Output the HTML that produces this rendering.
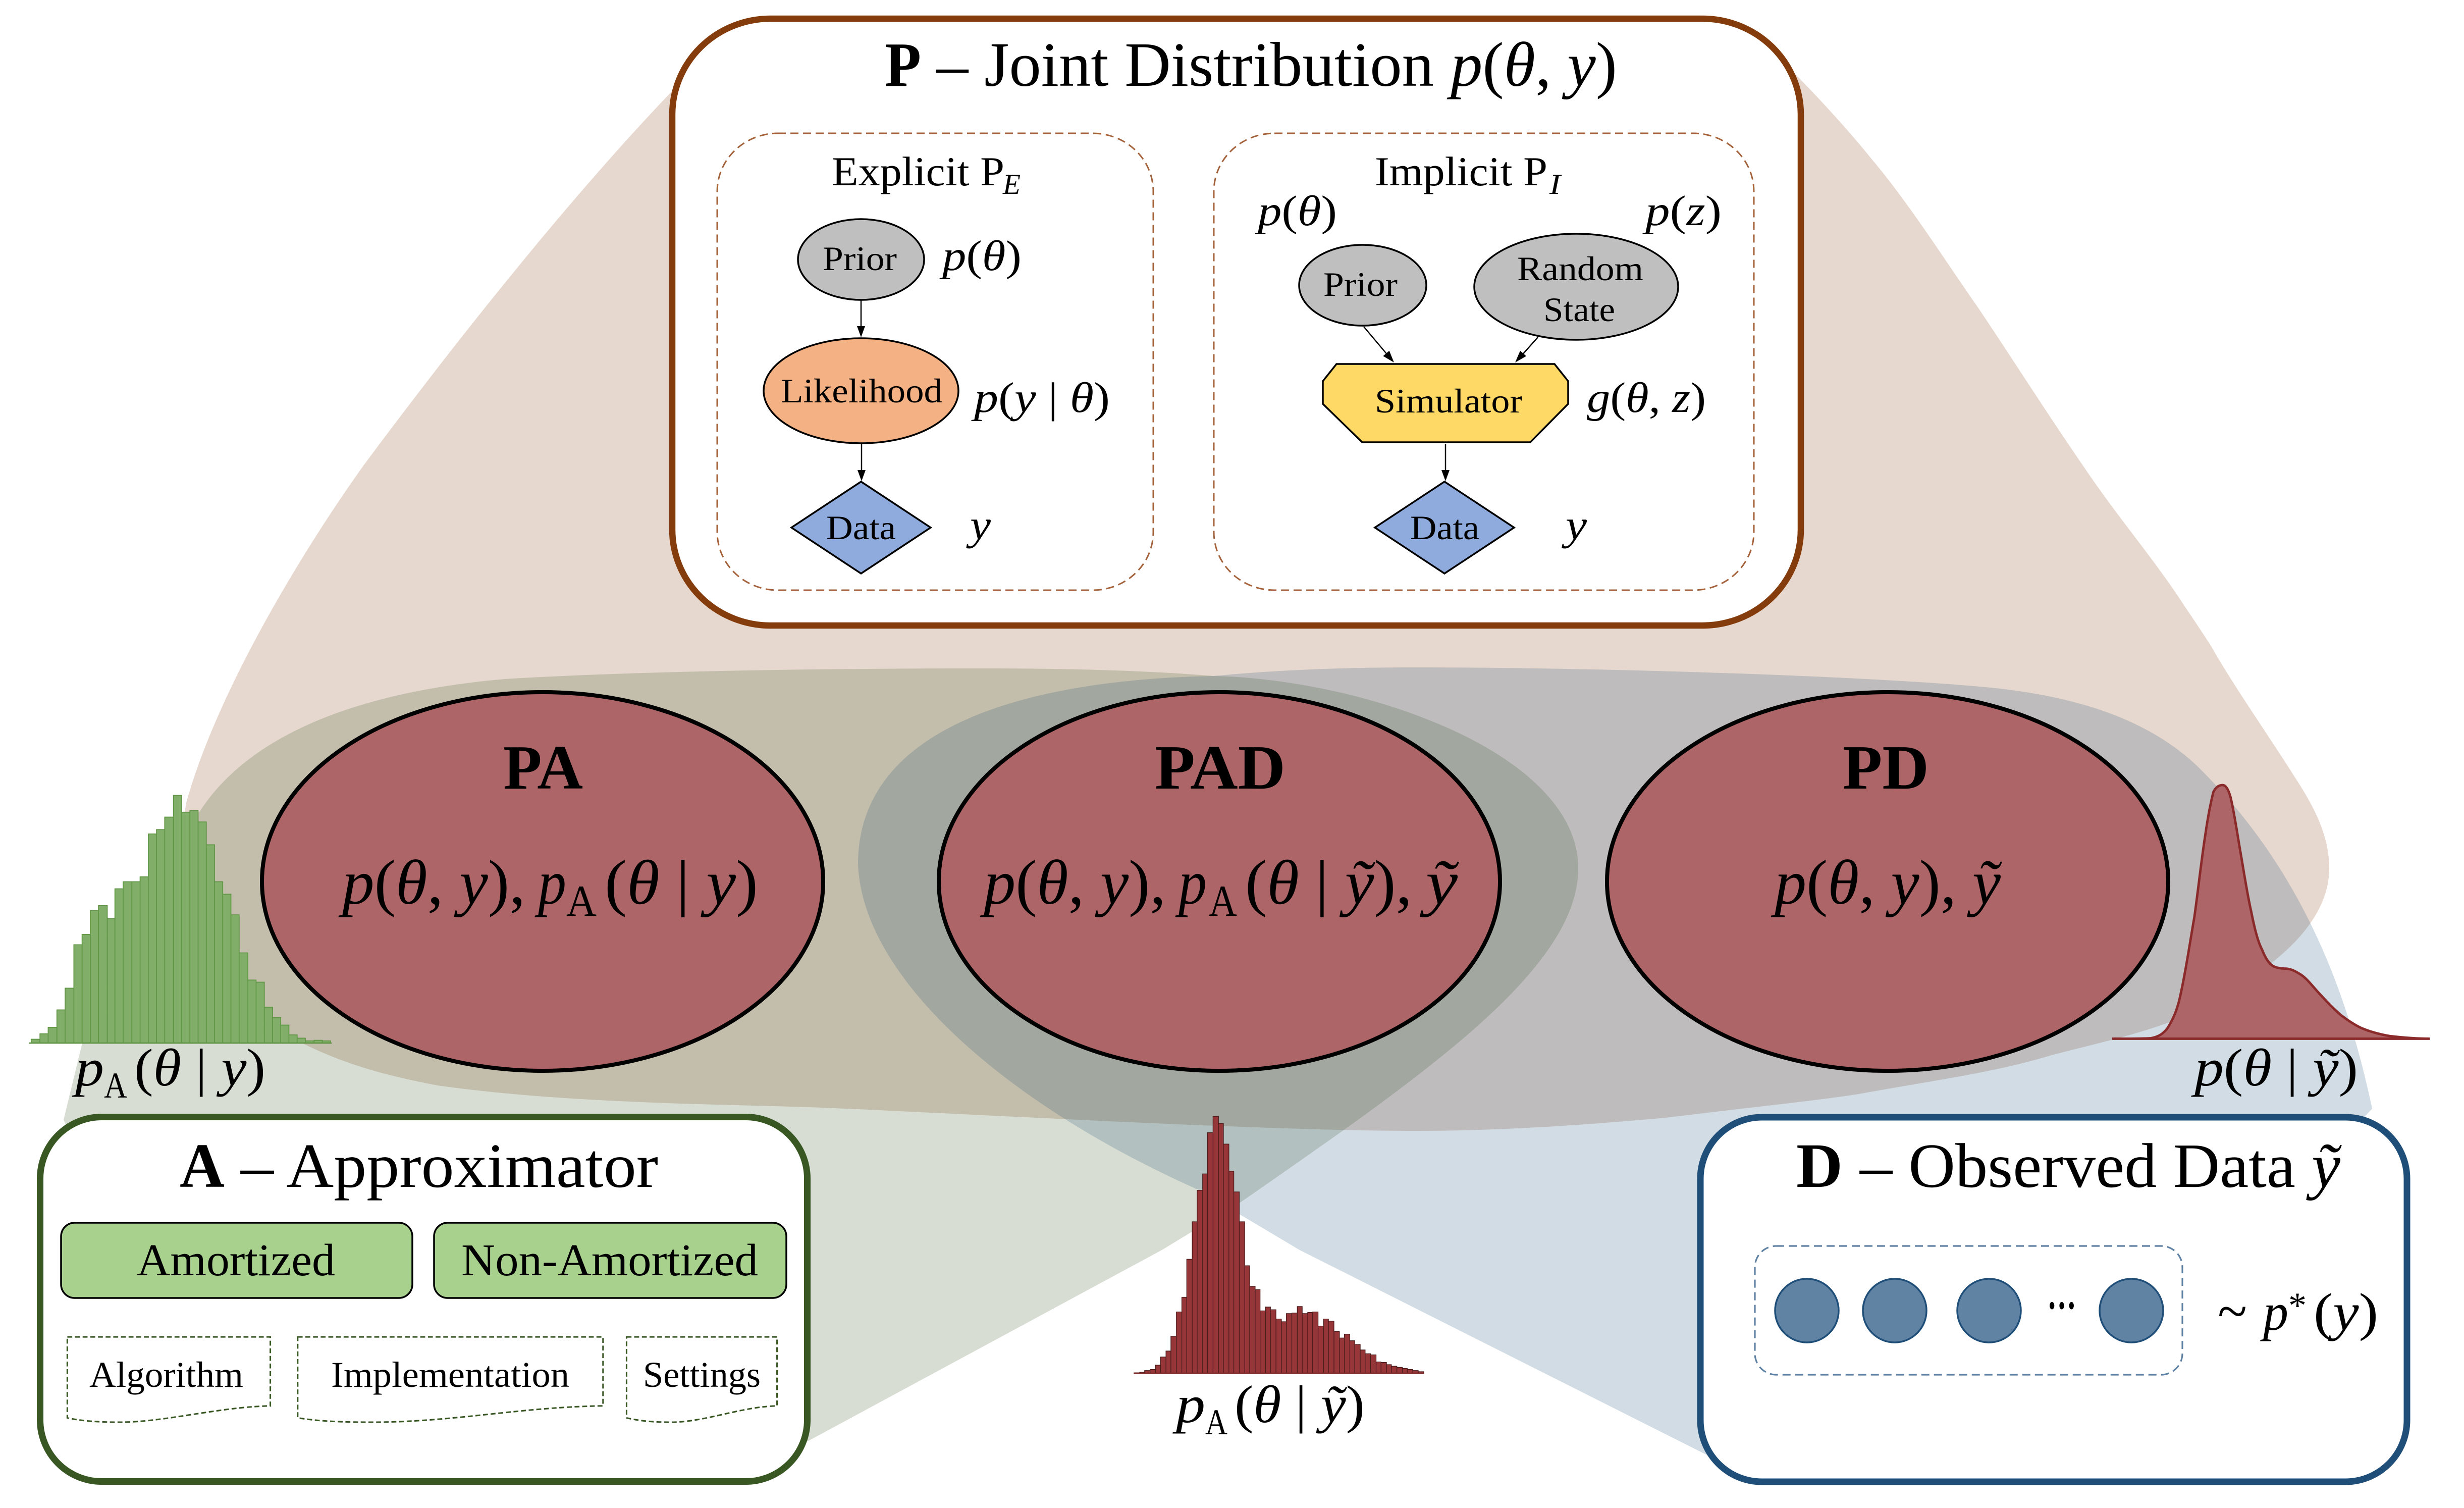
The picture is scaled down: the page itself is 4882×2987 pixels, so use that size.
<!DOCTYPE html>
<html><head><meta charset="utf-8"><title>Diagram</title>
<style>
html,body{margin:0;padding:0;background:#fff}
svg{display:block}
text{font-family:"Liberation Serif",serif;fill:#000}
.i{font-style:italic}
.b{font-weight:bold}
</style></head><body>
<svg xmlns="http://www.w3.org/2000/svg" width="4882" height="2987" viewBox="0 0 4882 2987">
<rect width="4882" height="2987" fill="#fff"/>
<!-- fans -->
<path fill="#843c0c" fill-opacity=".2" d="M1400 120 L1335 177 C1130 390 900 680 721 921 C600 1090 430 1370 369 1590 C340 1750 400 1950 575 2054 C670 2105 760 2130 867 2150 C1150 2190 1500 2187 1650 2195 C1900 2205 2500 2240 2800 2240 C2950 2240 3100 2232 3300 2214 C3480 2192 3600 2180 3683 2167 C3830 2140 3950 2125 4065 2090 C4150 2068 4230 2050 4295 2026 C4370 1995 4440 1955 4500 1908 C4555 1865 4615 1800 4615 1720 C4615 1650 4580 1590 4544 1535 C4510 1480 4420 1350 4381 1280 C4365 1255 4345 1225 4328 1200 C4270 1110 4200 1030 4131 928 C4060 825 3990 715 3921 612 C3850 510 3780 400 3710 317 C3660 255 3600 190 3549 139 L3400 120 Z"/>
<path fill="#385723" fill-opacity=".2" d="M160 2300 L126 2218 L163 2066 C220 1900 290 1700 396 1607 C465 1500 625 1378 1000 1345 C1250 1330 1600 1324 1950 1324 C2120 1324 2270 1328 2405 1339 C2700 1345 3127 1490 3127 1720 C3127 1920 2820 2130 2460 2380 L2302 2476 L1600 2855 L1540 2860 L200 2860 Z"/>
<path fill="#1f4e79" fill-opacity=".2" d="M4640 2260 L4700 2196 C4640 1910 4530 1690 4352 1516 C4250 1420 4100 1375 3922 1360 C3700 1340 3200 1322 2800 1322 C2650 1322 2520 1328 2405 1339 C2080 1345 1700 1420 1700 1712 C1710 1950 2020 2200 2375 2357 L2575 2476 L3382 2882 L3500 2880 L4600 2880 Z"/>

<!-- ellipses -->
<g fill="#ae6567" stroke="#000" stroke-width="8">
<ellipse cx="1075" cy="1746" rx="556" ry="375"/>
<ellipse cx="2416" cy="1746" rx="556" ry="375"/>
<ellipse cx="3740" cy="1746" rx="556" ry="375"/>
</g>
<text class="b" x="997" y="1562" font-size="125" textLength="158" lengthAdjust="spacingAndGlyphs">PA</text>
<text class="b" x="2288" y="1562" font-size="125" textLength="259" lengthAdjust="spacingAndGlyphs">PAD</text>
<text class="b" x="3651" y="1562" font-size="125" textLength="171" lengthAdjust="spacingAndGlyphs">PD</text>

<text x="678" y="1790" font-size="125" textLength="363" lengthAdjust="spacingAndGlyphs"><tspan class="i">p</tspan>(<tspan class="i">θ</tspan>, <tspan class="i">y</tspan>),</text>
<text class="i" x="1066" y="1790" font-size="125" textLength="56" lengthAdjust="spacingAndGlyphs">p</text>
<text x="1122" y="1814" font-size="88" textLength="60" lengthAdjust="spacingAndGlyphs">A</text>
<text x="1198" y="1790" font-size="125" textLength="304" lengthAdjust="spacingAndGlyphs">(<tspan class="i">θ</tspan> | <tspan class="i">y</tspan>)</text>

<text x="1949" y="1790" font-size="125" textLength="361" lengthAdjust="spacingAndGlyphs"><tspan class="i">p</tspan>(<tspan class="i">θ</tspan>, <tspan class="i">y</tspan>),</text>
<text class="i" x="2335" y="1790" font-size="125" textLength="56" lengthAdjust="spacingAndGlyphs">p</text>
<text x="2395" y="1814" font-size="88" textLength="56" lengthAdjust="spacingAndGlyphs">A</text>
<text x="2467" y="1790" font-size="125" textLength="331" lengthAdjust="spacingAndGlyphs">(<tspan class="i">θ</tspan> | <tspan class="i">ỹ</tspan>),</text>
<text class="i" x="2825" y="1790" font-size="125" textLength="63" lengthAdjust="spacingAndGlyphs">ỹ</text>

<text x="3516" y="1790" font-size="125" textLength="448" lengthAdjust="spacingAndGlyphs"><tspan class="i">p</tspan>(<tspan class="i">θ</tspan>, <tspan class="i">y</tspan>), <tspan class="i">ỹ</tspan></text>

<!-- green histogram -->
<g transform="translate(0,1300) scale(1.0842,1.0759)">
<path fill="#81ae68" stroke="#609545" stroke-width="1.6" d="M57 712V705H73V712M73 712V695H88V712M88 712V683H104V712M104 712V651H119V712M119 712V611H135V712M135 712V531H150V712M150 712V512H165V712M165 712V468H180V712M180 712V459H196V712M196 712V483H210V712M210 712V428H225V712M225 712V415H241V712M241 712V415H256V712M256 712V406H271V712M271 712V327H286V712M286 712V319H301V712M301 712V296H317V712M317 712V256H332V712M332 712V287H347V712M347 712V284H362V712M362 712V305H377V712M377 712V347H392V712M392 712V415H407V712M407 712V438H422V712M422 712V476H437V712M437 712V546H453V712M453 712V596H468V712M468 712V600H483V712M483 712V646H498V712M498 712V665H513V712M513 712V679H528V712M528 712V697H543V712M543 712V703H558V712M558 712V708H574V712M574 712V707H589V712M589 712V708H604V712Z"/>
<line x1="53" y1="712" x2="606" y2="712" stroke="#609545" stroke-width="2.5"/>
</g>
<text class="i" x="149" y="2150" font-size="105" textLength="57" lengthAdjust="spacingAndGlyphs">p</text>
<text x="206" y="2174" font-size="72" textLength="46" lengthAdjust="spacingAndGlyphs">A</text>
<text x="266" y="2150" font-size="105" textLength="260" lengthAdjust="spacingAndGlyphs">(<tspan class="i">θ</tspan> | <tspan class="i">y</tspan>)</text>

<!-- red histogram -->
<g transform="translate(1600,1300) scale(1.0842,1.0759)">
<path fill="#963638" stroke="#4a1c1c" stroke-width="1.2" d="M597 1320V1319H607V1320M607 1320V1318H616V1320M616 1320V1315H626V1320M626 1320V1313H636V1320M636 1320V1305H645V1320M645 1320V1290H655V1320M655 1320V1279H664V1320M664 1320V1252H674V1320M674 1320V1207H684V1320M684 1320V1180H693V1320M693 1320V1110H703V1320M703 1320V1041H712V1320M712 1320V983H722V1320M722 1320V953H731V1320M731 1320V877H741V1320M741 1320V847H751V1320M751 1320V860H760V1320M760 1320V898H770V1320M770 1320V948H779V1320M779 1320V986H789V1320M789 1320V1041H799V1320M799 1320V1122H808V1320M808 1320V1160H818V1320M818 1320V1166H827V1320M827 1320V1205H837V1320M837 1320V1198H846V1320M846 1320V1203H856V1320M856 1320V1220H866V1320M866 1320V1225H875V1320M875 1320V1210H885V1320M885 1320V1209H895V1320M895 1320V1197H904V1320M904 1320V1210H914V1320M914 1320V1208H923V1320M923 1320V1207H933V1320M933 1320V1233H943V1320M943 1320V1220H952V1320M952 1320V1224H962V1320M962 1320V1243H972V1320M972 1320V1255H981V1320M981 1320V1248H991V1320M991 1320V1260H1000V1320M1000 1320V1267H1010V1320M1010 1320V1277H1019V1320M1019 1320V1284H1029V1320M1029 1320V1286H1039V1320M1039 1320V1299H1048V1320M1048 1320V1300H1058V1320M1058 1320V1304H1067V1320M1067 1320V1307H1077V1320M1077 1320V1309H1087V1320M1087 1320V1311H1096V1320M1096 1320V1313H1106V1320M1106 1320V1315H1116V1320M1116 1320V1317H1126V1320Z"/>
<line x1="596" y1="1320" x2="1127" y2="1320" stroke="#7d2a2a" stroke-width="2.5"/>
</g>
<text class="i" x="2330" y="2817" font-size="105" textLength="58" lengthAdjust="spacingAndGlyphs">p</text>
<text x="2388" y="2841" font-size="72" textLength="44" lengthAdjust="spacingAndGlyphs">A</text>
<text x="2446" y="2817" font-size="105" textLength="258" lengthAdjust="spacingAndGlyphs">(<tspan class="i">θ</tspan> | <tspan class="i">ỹ</tspan>)</text>

<!-- density -->
<g transform="translate(3200,1300) scale(1.0727,1.0759)">
<path fill="#ae6567" stroke="#8b2a2a" stroke-width="4.5" d="M918 704 C950 704 975 704 990 703 C1005 700 1012 695 1020 685 C1033 665 1040 645 1045 620 C1055 575 1062 525 1070 480 C1077 430 1083 375 1090 330 C1095 295 1100 270 1105 250 C1110 240 1116 237 1122 237 C1128 237 1133 245 1137 260 C1144 290 1149 325 1155 360 C1162 400 1168 440 1175 470 C1181 500 1187 525 1195 540 C1201 555 1207 565 1215 570 C1222 574 1232 575 1240 575 C1250 576 1257 580 1265 585 C1277 592 1288 607 1300 620 C1313 634 1326 648 1340 660 C1353 670 1366 679 1380 685 C1397 692 1413 696 1430 699 C1455 702 1480 704 1505 704 Z"/>
</g>
<text x="4348" y="2150" font-size="105" textLength="324" lengthAdjust="spacingAndGlyphs"><tspan class="i">p</tspan>(<tspan class="i">θ</tspan> | <tspan class="i">ỹ</tspan>)</text>

<!-- P box -->
<rect x="1332" y="37" width="2236" height="1202" rx="195" ry="190" fill="#fff" stroke="#843c0c" stroke-width="12.5"/>
<text class="b" x="1753" y="170" font-size="125" textLength="72" lengthAdjust="spacingAndGlyphs">P</text>
<text x="1855" y="170" font-size="125" textLength="986" lengthAdjust="spacingAndGlyphs">– Joint Distribution</text>
<text x="2874" y="170" font-size="125" textLength="330" lengthAdjust="spacingAndGlyphs"><tspan class="i">p</tspan>(<tspan class="i">θ</tspan>, <tspan class="i">y</tspan>)</text>

<g fill="none" stroke="#a5623a" stroke-width="3" stroke-dasharray="16 9">
<rect x="1421" y="264" width="864" height="905" rx="120" ry="115"/>
<rect x="2405" y="264" width="1070" height="905" rx="120" ry="115"/>
</g>
<text x="1648" y="367" font-size="82" textLength="342" lengthAdjust="spacingAndGlyphs">Explicit P</text>
<text class="i" x="1987" y="384" font-size="57" textLength="35" lengthAdjust="spacingAndGlyphs">E</text>
<text x="2724" y="367" font-size="82" textLength="342" lengthAdjust="spacingAndGlyphs">Implicit P</text>
<text class="i" x="3070" y="384" font-size="57" textLength="22" lengthAdjust="spacingAndGlyphs">I</text>

<!-- connectors -->
<g stroke="#000" stroke-width="2.5">
<line x1="1706" y1="595" x2="1706" y2="650"/>
<line x1="1707" y1="877" x2="1707" y2="935"/>
<line x1="2864" y1="879" x2="2864" y2="935"/>
<line x1="2702" y1="647" x2="2750" y2="704"/>
<line x1="3047" y1="668" x2="3015" y2="704"/>
</g>
<g fill="#000">
<polygon points="1706,668 1698,646 1714,646"/>
<polygon points="1707,953 1699,931 1715,931"/>
<polygon points="2864,953 2856,931 2872,931"/>
<polygon points="2762,718 2752.6,694.8 2740.4,705.2"/>
<polygon points="3002,718 3024,705.4 3012,694.8"/>
</g>

<!-- nodes -->
<g stroke="#000" stroke-width="3.5">
<ellipse cx="1706" cy="514" rx="125" ry="80" fill="#bfbfbf"/>
<ellipse cx="1706" cy="774" rx="193" ry="104" fill="#f4b183"/>
<polygon points="1706,954 1844,1045 1706,1136 1568,1045" fill="#8faadc"/>
<ellipse cx="2700" cy="565" rx="126" ry="80" fill="#bfbfbf"/>
<ellipse cx="3123" cy="568" rx="202" ry="105" fill="#bfbfbf"/>
<polygon points="2648,721 3080,721 3107,755 3107,800 3032,876 2699,876 2621,800 2621,755" fill="#ffd966"/>
<polygon points="2862,954 3000,1045 2862,1136 2724,1045" fill="#8faadc"/>
</g>
<g font-size="68">
<text x="1630" y="535" textLength="147" lengthAdjust="spacingAndGlyphs">Prior</text>
<text x="1547" y="797" textLength="320" lengthAdjust="spacingAndGlyphs">Likelihood</text>
<text x="1637" y="1068" textLength="138" lengthAdjust="spacingAndGlyphs">Data</text>
<text x="2622" y="586" textLength="147" lengthAdjust="spacingAndGlyphs">Prior</text>
<text x="3006" y="555" textLength="250" lengthAdjust="spacingAndGlyphs">Random</text>
<text x="3058" y="636" textLength="142" lengthAdjust="spacingAndGlyphs">State</text>
<text x="2724" y="817" textLength="292" lengthAdjust="spacingAndGlyphs">Simulator</text>
<text x="2794" y="1068" textLength="137" lengthAdjust="spacingAndGlyphs">Data</text>
</g>
<g font-size="85">
<text x="2492" y="446" textLength="157" lengthAdjust="spacingAndGlyphs"><tspan class="i">p</tspan>(<tspan class="i">θ</tspan>)</text>
<text x="3260" y="446" textLength="151" lengthAdjust="spacingAndGlyphs"><tspan class="i">p</tspan>(<tspan class="i">z</tspan>)</text>
<text x="1867" y="535" textLength="157" lengthAdjust="spacingAndGlyphs"><tspan class="i">p</tspan>(<tspan class="i">θ</tspan>)</text>
<text x="1930" y="816" textLength="269" lengthAdjust="spacingAndGlyphs"><tspan class="i">p</tspan>(<tspan class="i">y</tspan> | <tspan class="i">θ</tspan>)</text>
<text x="3144" y="816" textLength="236" lengthAdjust="spacingAndGlyphs"><tspan class="i">g</tspan>(<tspan class="i">θ</tspan>, <tspan class="i">z</tspan>)</text>
<text class="i" x="1922" y="1068" textLength="41" lengthAdjust="spacingAndGlyphs">y</text>
<text class="i" x="3102" y="1068" textLength="42" lengthAdjust="spacingAndGlyphs">y</text>
</g>

<!-- A box -->
<rect x="79.5" y="2212.5" width="1520" height="722" rx="122" ry="122" fill="#fff" stroke="#385723" stroke-width="13"/>
<text class="b" x="356" y="2351" font-size="125" textLength="89" lengthAdjust="spacingAndGlyphs">A</text>
<text x="477" y="2351" font-size="125" textLength="827" lengthAdjust="spacingAndGlyphs">– Approximator</text>
<g fill="#a9d18e" stroke="#000" stroke-width="3.5">
<rect x="121" y="2422" width="696" height="149" rx="27" ry="27"/>
<rect x="860" y="2422" width="698" height="149" rx="27" ry="27"/>
</g>
<text x="271" y="2526" font-size="90" textLength="393" lengthAdjust="spacingAndGlyphs">Amortized</text>
<text x="914" y="2526" font-size="90" textLength="588" lengthAdjust="spacingAndGlyphs">Non-Amortized</text>
<g transform="translate(0,1300) scale(1.0842,1.0759)" fill="none" stroke="#385723" stroke-width="2.8" stroke-dasharray="9 5">
<path d="M123 1253H494V1380C400 1382 300 1410 220 1410C180 1410 150 1408 123 1402Z"/>
<path d="M544 1253H1102V1380C950 1382 830 1410 680 1410C620 1410 580 1408 544 1402Z"/>
<path d="M1145 1253H1420V1380C1350 1382 1290 1410 1225 1410C1195 1410 1170 1408 1145 1402Z"/>
</g>
<g font-size="72">
<text x="177" y="2747" textLength="305" lengthAdjust="spacingAndGlyphs">Algorithm</text>
<text x="656" y="2747" textLength="472" lengthAdjust="spacingAndGlyphs">Implementation</text>
<text x="1274" y="2747" textLength="233" lengthAdjust="spacingAndGlyphs">Settings</text>
</g>

<!-- D box -->
<rect x="3369" y="2213" width="1400" height="722" rx="122" ry="122" fill="#fff" stroke="#1f4e79" stroke-width="13"/>
<text class="b" x="3559" y="2351" font-size="125" textLength="92" lengthAdjust="spacingAndGlyphs">D</text>
<text x="3685" y="2351" font-size="125" textLength="952" lengthAdjust="spacingAndGlyphs">– Observed Data <tspan class="i">ỹ</tspan></text>
<rect x="3477" y="2468" width="847" height="255" rx="42" ry="42" fill="none" stroke="#5f81a4" stroke-width="3.2" stroke-dasharray="16 9"/>
<g fill="#6082a3" stroke="#1f4e79" stroke-width="3.5">
<circle cx="3580" cy="2596" r="63"/>
<circle cx="3754" cy="2596" r="63"/>
<circle cx="3941" cy="2596" r="63"/>
<circle cx="4223" cy="2596" r="63"/>
</g>
<text class="b" x="4056" y="2616" font-size="90" textLength="58" lengthAdjust="spacingAndGlyphs">···</text>
<text x="4394" y="2634" font-size="110" textLength="58" lengthAdjust="spacingAndGlyphs">~</text>
<text class="i" x="4484" y="2634" font-size="105" textLength="50" lengthAdjust="spacingAndGlyphs">p</text>
<text x="4534" y="2610" font-size="72" textLength="36" lengthAdjust="spacingAndGlyphs">*</text>
<text x="4584" y="2634" font-size="105" textLength="128" lengthAdjust="spacingAndGlyphs">(<tspan class="i">y</tspan>)</text>
</svg>
</body></html>
